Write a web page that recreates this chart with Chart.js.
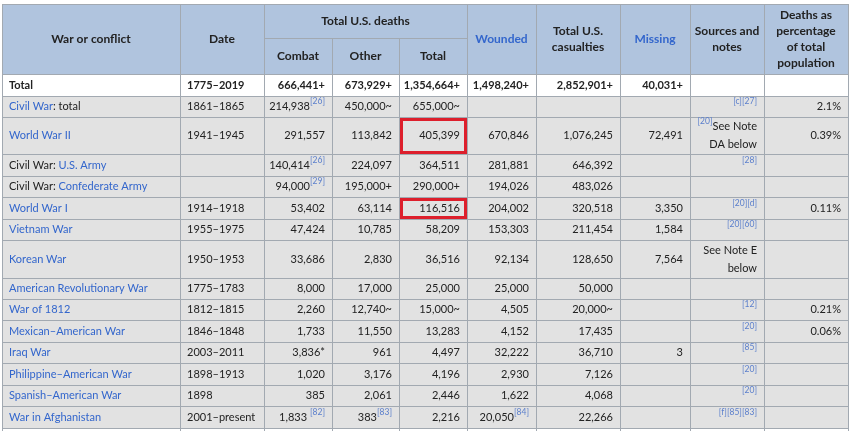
<!DOCTYPE html>
<html>
<head>
<meta charset="utf-8">
<script src="https://cdn.jsdelivr.net/npm/chart.js@4.4.1/dist/chart.umd.min.js"></script>
<style>
html, body { margin: 0; background: #fff; }
#wrap { width: 850px; height: 431px; }
</style>
</head>
<body>
<div id="wrap"><canvas id="table1"></canvas></div>
<script>
// Tableau des pertes americaines, dessine sur le canvas de Chart.js
// <...> = lien (bleu), ^(...) = note en exposant

var headers = ['War or conflict', 'Date', 'Combat', 'Other', 'Total', '<Wounded>', 'Total U.S.\ncasualties', '<Missing>', 'Sources and\nnotes', 'Deaths as\npercentage\nof total\npopulation']
var groupHeader = 'Total U.S. deaths'

var conflicts = ['Total', '<Civil War>: total', '<World War II>', 'Civil War: <U.S. Army>', 'Civil War: <Confederate Army>', '<World War I>', '<Vietnam War>', '<Korean War>', '<American Revolutionary War>', '<War of 1812>', '<Mexican–American War>', '<Iraq War>', '<Philippine–American War>', '<Spanish–American War>', '<War in Afghanistan>', '']
var dates = ['1775–2019', '1861–1865', '1941–1945', '', '', '1914–1918', '1955–1975', '1950–1953', '1775–1783', '1812–1815', '1846–1848', '2003–2011', '1898–1913', '1898', '2001–present', '']
var combat = ['666,441+', '214,938^([26])', '291,557', '140,414^([26])', '94,000^([29])', '53,402', '47,424', '33,686', '8,000', '2,260', '1,733', '3,836*', '1,020', '385', '1,833 ^([82])', '']
var other = ['673,929+', '450,000~', '113,842', '224,097', '195,000+', '63,114', '10,785', '2,830', '17,000', '12,740~', '11,550', '961', '3,176', '2,061', '383^([83])', '']
var total = ['1,354,664+', '655,000~', '405,399', '364,511', '290,000+', '116,516', '58,209', '36,516', '25,000', '15,000~', '13,283', '4,497', '4,196', '2,446', '2,216', '']
var wounded = ['1,498,240+', '', '670,846', '281,881', '194,026', '204,002', '153,303', '92,134', '25,000', '4,505', '4,152', '32,222', '2,930', '1,622', '20,050^([84])', '']
var casualties = ['2,852,901+', '', '1,076,245', '646,392', '483,026', '320,518', '211,454', '128,650', '50,000', '20,000~', '17,435', '36,710', '7,126', '4,068', '22,266', '']
var missing = ['40,031+', '', '72,491', '', '', '3,350', '1,584', '7,564', '', '', '', '3', '', '', '', '']
var notes = ['', '^([c][27])', '^([20])See Note\nDA below', '^([28])', '', '^([20][d])', '^([20][60])', 'See Note E\nbelow', '', '^([12])', '^([20])', '^([85])', '^([20])', '^([20])', '^([f][85][83])', '']
var percent = ['', '2.1%', '0.39%', '', '', '0.11%', '', '', '', '0.21%', '0.06%', '', '', '', '', '']

var highlighted = [[2, 4], [5, 4]] // [ligne, colonne] encadrees en rouge

// mise en page (pixels)
var colX = [2, 180, 264, 332, 399, 467, 536, 620, 690, 764, 848]
var rowY = [74, 96, 117, 154, 176, 197, 219, 240, 278, 299, 320, 342, 363, 385, 406, 428, 452]
var headY = [4, 38, 74]
var align = ['left', 'left', 'right', 'right', 'right', 'right', 'right', 'right', 'right', 'right']

var FONT = 'Lato, sans-serif'
var LINK = '#3366cc'
var SUP = '#5b7fcc'
var BORDER = '#a2a9b1'

function drawRich(ctx, str, x0, x1, y0, y1, al, bold, lineH, size) {
    if (!str) return
    var lines = str.split('\n')
    var cy = (y0 + y1) / 2 - (lines.length - 1) * lineH / 2
    var w = bold ? 'bold ' : ''
    lines.forEach(function (line, i) {
        var parts = line.split(/(<[^>]*>|\^\([^)]*\))/).filter(function (p) { return p !== '' })
        var segs = parts.map(function (p) {
            if (p[0] === '<') return { t: p.slice(1, -1), font: w + size + 'px ' + FONT, color: LINK, dy: 0 }
            if (p[0] === '^') return { t: p.slice(2, -1), font: '8.5px ' + FONT, color: SUP, dy: -5 }
            return { t: p, font: w + size + 'px ' + FONT, color: '#222222', dy: 0 }
        })
        var tw = 0
        segs.forEach(function (s) { ctx.font = s.font; s.w = ctx.measureText(s.t).width; tw += s.w })
        var x
        if (al === 'left') x = x0 + 7
        else if (al === 'right') x = x1 - 7 - tw
        else x = (x0 + x1) / 2 - tw / 2
        var y = cy + i * lineH
        segs.forEach(function (s) {
            ctx.font = s.font
            ctx.fillStyle = s.color
            ctx.textBaseline = 'middle'
            ctx.textAlign = 'left'
            ctx.fillText(s.t, x, y + s.dy)
            x += s.w
        })
    })
}

var tablePlugin = {
    id: 'tablePlugin',
    beforeDatasetsDraw: function (chart) {
        var ctx = chart.ctx
        var X = function (v) { return Math.round(chart.scales.x.getPixelForValue(v)) }
        var Y = function (v) { return Math.round(chart.scales.y.getPixelForValue(v)) }
        ctx.save()

        function cell(c0, c1, y0, y1, bg) {
            var a = X(colX[c0]), b = X(colX[c1]), t = Y(y0), u = Y(y1)
            ctx.fillStyle = bg
            ctx.fillRect(a, t, b - a, u - t)
            ctx.strokeStyle = BORDER
            ctx.lineWidth = 1
            ctx.strokeRect(a + 0.5, t + 0.5, b - a, u - t)
            return [a, b, t, u]
        }

        // en-tete
        var hb = '#b0c4de'
        for (var c = 0; c < 10; c++) {
            var r
            if (c >= 2 && c <= 4) r = cell(c, c + 1, headY[1], headY[2], hb)
            else r = cell(c, c + 1, headY[0], headY[2], hb)
            drawRich(ctx, headers[c], r[0], r[1], r[2], r[3], 'center', true, 16, 12)
        }
        r = cell(2, 5, headY[0], headY[1], hb)
        drawRich(ctx, groupHeader, r[0], r[1], r[2], r[3], 'center', true, 16, 12)

        // corps
        var columns = [conflicts, dates, combat, other, total, wounded, casualties, missing, notes, percent]
        for (var i = 0; i < conflicts.length; i++) {
            var bg = (i === 0 || i === conflicts.length - 1) ? '#ffffff' : '#e2e2e2'
            for (c = 0; c < 10; c++) {
                r = cell(c, c + 1, rowY[i], rowY[i + 1], bg)
                drawRich(ctx, columns[c][i], r[0], r[1], r[2], r[3], align[c], i === 0, 18, 11)
            }
        }

        // cadres rouges
        highlighted.forEach(function (h) {
            var a = X(colX[h[1]]), b = X(colX[h[1] + 1]), t = Y(rowY[h[0]]), u = Y(rowY[h[0] + 1])
            ctx.strokeStyle = '#dd1f2c'
            ctx.lineWidth = 3
            ctx.strokeRect(a + 2.5, t + 2.5, b - a - 4, u - t - 4)
        })
        ctx.restore()
    }
}

var config = {
    type: 'scatter',
    data: { datasets: [] },
    options: {
        responsive: true,
        maintainAspectRatio: false,
        animation: false,
        layout: { padding: 0 },
        plugins: { legend: { display: false }, tooltip: { enabled: false } },
        scales: {
            x: { type: 'linear', min: 0, max: 850, display: false },
            y: { type: 'linear', min: 0, max: 431, reverse: true, display: false }
        }
    },
    plugins: [tablePlugin]
}

var table1 = new Chart(document.getElementById('table1').getContext('2d'), config)
</script>
</body>
</html>
